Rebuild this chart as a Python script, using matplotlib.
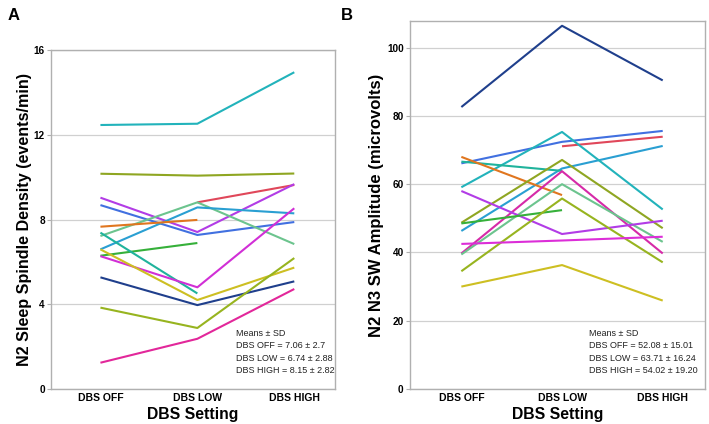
import numpy as np
import matplotlib
matplotlib.use('Agg')
import matplotlib.pyplot as plt

plt.rcParams['font.family'] = ['Liberation Sans', 'DejaVu Sans']

settings = ['DBS OFF', 'DBS LOW', 'DBS HIGH']
nan = np.nan

# panel A: N2 sleep spindle density (events/min), one row per subject
spindle = [
    [12.46, 12.52, 14.95],
    [10.16, 10.07, 10.17],
    [nan, 8.81, 9.63],
    [9.03, 7.41, 9.67],
    [8.68, 7.27, 7.88],
    [7.22, 8.81, 6.84],
    [6.59, 8.57, 8.29],
    [7.66, 7.98, nan],
    [6.29, 6.89, nan],
    [7.38, 4.51, nan],
    [6.27, 4.80, 8.53],
    [6.59, 4.20, 5.73],
    [5.27, 3.96, 5.08],
    [3.84, 2.88, 6.18],
    [1.24, 2.37, 4.72],
]
spindle_colors = ['#22b3bb', '#8fa622', '#e0475a', '#b23ce6', '#4170e0',
                  '#6cc48e', '#2a9fd2', '#e0761f', '#36b03a', '#20b39c',
                  '#d12fd6', '#cdbf22', '#1f3f8c', '#97b41f', '#e2279a']

# panel B: N2 N3 slow wave amplitude (microvolts)
swa = [
    [82.6, 106.4, 90.4],
    [66.1, 72.4, 75.6],
    [nan, 71.1, 73.9],
    [46.3, 64.6, 71.2],
    [59.1, 75.3, 52.6],
    [66.6, 63.9, nan],
    [68.0, 56.8, nan],
    [48.7, 67.1, 47.1],
    [39.7, 63.8, 39.7],
    [39.4, 60.0, 43.1],
    [58.0, 45.4, 49.3],
    [48.5, 52.4, nan],
    [34.5, 55.8, 37.1],
    [42.5, 43.5, 44.6],
    [30.0, 36.3, 25.9],
]
swa_colors = ['#1f3f8c', '#4170e0', '#e0475a', '#2a9fd2', '#22b3bb',
              '#20b39c', '#e0761f', '#8fa622', '#d62aa8', '#6cc48e',
              '#b23ce6', '#36b03a', '#97b41f', '#dc2ed8', '#cdbf22']

stats_a = ['Means ± SD', 'DBS OFF = 7.06 ± 2.7', 'DBS LOW = 6.74 ± 2.88',
           'DBS HIGH = 8.15 ± 2.82']
stats_b = ['Means ± SD', 'DBS OFF = 52.08 ± 15.01', 'DBS LOW = 63.71 ± 16.24',
           'DBS HIGH = 54.02 ± 19.20']

W, H = 709, 424
fig = plt.figure(figsize=(W / 100, H / 100), dpi=100)


def make_ax(l, r, t, b):
    return fig.add_axes([l / W, 1 - b / H, (r - l) / W, (b - t) / H])


def draw(ax, data, colors, ylim, yticks, ylabel, stats, stats_x, ylab_x, ylab_size):
    x = np.arange(len(settings))
    for row, c in zip(data, colors):
        ax.plot(x, row, color=c, lw=1.5, solid_capstyle='butt')
    ax.set_xlim(-0.51, 2.42)
    ax.set_ylim(*ylim)
    ax.set_yticks(yticks)
    ax.set_yticklabels([str(v) for v in yticks], fontsize=7.2, fontweight='bold')
    ax.set_xticks(x)
    ax.set_xticklabels(settings, fontsize=7.5, fontweight='bold')
    ax.tick_params(axis='x', length=0, pad=3)
    ax.tick_params(axis='y', length=3, color='#b0b0b0', pad=1.5)
    ax.grid(axis='y', color='#d0d0d0', lw=0.9)
    ax.set_axisbelow(True)
    for s in ax.spines.values():
        s.set_color('#b0b0b0')
        s.set_linewidth(1)
    ax.set_xlabel('DBS Setting', fontsize=11.3, fontweight='bold', labelpad=3)
    ax.set_ylabel(ylabel, fontsize=ylab_size, fontweight='bold', va='center')
    l = ax.get_position().x0 * W
    w = ax.get_position().width * W
    ax.yaxis.set_label_coords((ylab_x - l) / w, 0.5)
    # stats box, placed in pixels from the top of the figure
    for i, line in enumerate(stats):
        fig.text(stats_x / W, 1 - (333.5 + i * 12.3) / H, line,
                 fontsize=6.5, color='#222222', va='center')


ax_a = make_ax(51, 335, 50, 389)
draw(ax_a, spindle, spindle_colors, (0, 16), [0, 4, 8, 12, 16],
     'N2 Sleep Spindle Density (events/min)', stats_a, 236, 25, 11.6)

ax_b = make_ax(410, 705, 21, 389)
draw(ax_b, swa, swa_colors, (0, 107.8), [0, 20, 40, 60, 80, 100],
     'N2 N3 SW Amplitude (microvolts)', stats_b, 589, 376, 12)

fig.text(14 / W, 1 - 15 / H, 'A', fontsize=12, fontweight='bold', va='center', ha='center')
fig.text(347 / W, 1 - 15 / H, 'B', fontsize=12, fontweight='bold', va='center', ha='center')

fig.savefig('out.png', dpi=100)
